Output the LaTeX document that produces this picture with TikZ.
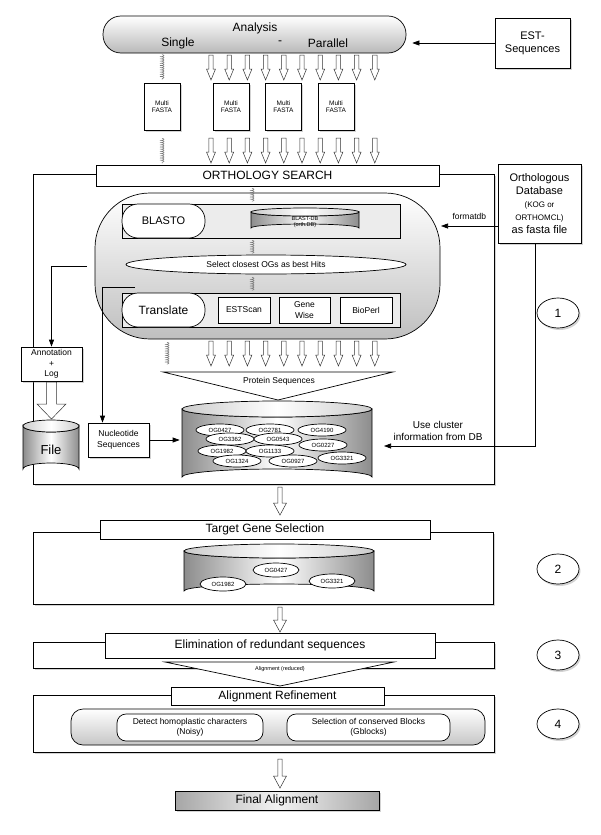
\documentclass[tikz,border=0pt]{standalone}
\usepackage{fontspec}
\setmainfont{Liberation Sans}
\usetikzlibrary{arrows.meta,shapes.geometric,shadows,decorations.pathmorphing}

\tikzset{pics/hollow/.style n args={4}{code={
	\draw [draw=black!80, fill=white, line width=0.5pt] (-#1,0) -- (#1,0) -- (#1,#3-#4) -- (#2,#3-#4) -- (0,#3) -- (-#2,#3-#4) -- (-#1,#3-#4) -- cycle;
}}}

\begin{document}
\begin{tikzpicture}[x=1pt,y=-1pt,line width=0.7pt,>={Triangle[length=7pt,width=5pt]}]
	\tikzstyle{fa}=[font=\fontsize{12}{14}\selectfont]
	\tikzstyle{fb}=[font=\fontsize{10}{12}\selectfont]
	\tikzstyle{fc}=[font=\fontsize{8.5}{10.5}\selectfont]
	\tikzstyle{fd}=[font=\fontsize{6}{7}\selectfont]
	\tikzstyle{shad}=[drop shadow={shadow xshift=1.5pt, shadow yshift=-2pt, opacity=0.35}]
	\tikzstyle{box}=[draw=black, fill=white, align=center, inner sep=1pt]
	\tikzstyle{frame}=[draw=black, fill=white, shad]
	\tikzstyle{bar}=[draw=black, fill=white, fa, inner sep=0pt]
	\tikzstyle{circ}=[ellipse, draw=black, fill=white, shad, minimum width=42pt, minimum height=30pt, fa]
	\tikzstyle{og}=[ellipse, draw=black, fill=white, minimum width=48pt, minimum height=12pt, inner sep=0pt, fd]
	\tikzstyle{hatched}=[draw=black!55, decorate, decoration={coil, aspect=0.2, segment length=2.2pt, amplitude=2pt}, line width=0.5pt]
	\tikzstyle{dbbody}=[draw=black, left color=gray!90, right color=gray!90, middle color=white]
	\tikzstyle{dbtop}=[draw=black, left color=gray!40, right color=gray!40, middle color=white]

	\useasboundingbox (0,0) rectangle (600,835);

	% frames of the four steps
	\draw node at (263.5,329) [frame, minimum width=461pt, minimum height=310pt] (frameA) {};
	\draw node at (263,568) [frame, minimum width=460pt, minimum height=72pt] (frameB) {};
	\draw node at (263.5,655) [frame, minimum width=461pt, minimum height=26pt] (frameC) {};
	\draw node at (263.5,723.5) [frame, minimum width=461pt, minimum height=57pt] (frameD) {};

	% analysis
	\draw node at (254.5,34.5) [draw=black, rounded corners=18pt, minimum width=303pt, minimum height=37pt, top color=white, bottom color=gray!55] (analysis) {};
	\node at (255,28) [fa] (analysistxt) {Analysis};
	\node at (178,43) [fa] (single) {Single};
	\node at (280,43) [fa] (sep) {-};
	\node at (328,43) [fa] (parallel) {Parallel};
	\draw node at (532.5,43) [box, shad, minimum width=75pt, minimum height=50pt, font=\fontsize{11}{13}\selectfont] (est) {EST-\\Sequences};
	\draw [->, shorten >=6pt] (est.west) to (est.west -| analysis.east);

	\foreach \x/\n in {162/mf1, 231/mf2, 283.5/mf3, 336/mf4}
		\draw node at (\x,106.5) [box, shad, minimum width=36pt, minimum height=47pt, font=\fontsize{6.5}{7.5}\selectfont] (\n) {Multi\\FASTA};

	\draw [hatched] (mf1.north) ++(0,-28) -- ++(0,25);
	\draw [hatched] (mf1.south) ++(0,8) -- ++(0,25);

	% orthology search
	\draw node at (267.5,266) [draw=black, rounded corners=55pt, minimum width=345pt, minimum height=146pt, top color=white, bottom color=gray!50] (searchbody) {};
	\draw node at (267.5,175.5) [bar, minimum width=343pt, minimum height=21pt] (orthbar) {ORTHOLOGY SEARCH};
	\draw node at (539.5,203.5) [box, shad, minimum width=83pt, minimum height=79pt, font=\fontsize{11}{13}\selectfont] (orthdb) {Orthologous\\Database\\{\fontsize{8}{10}\selectfont (KOG or}\\{\fontsize{8}{10}\selectfont ORTHOMCL)}\\as fasta file};

	\draw node at (261,221) [draw=black, fill=gray!15, minimum width=278pt, minimum height=34pt] (blastrow) {};
	\draw node at (163.5,221) [draw=black, fill=white, rounded corners=16pt, minimum width=83pt, minimum height=34pt, font=\fontsize{11}{13}\selectfont] (blasto) {BLASTO};
	\draw [dbbody] (251,212) -- (251,228) arc [start angle=180, end angle=360, x radius=54, y radius=4] -- (359,212) arc [start angle=0, end angle=180, x radius=54, y radius=4] -- cycle;
	\draw [dbtop] (305,212) ellipse [x radius=54, y radius=4];
	\node at (305,222) [align=center, font=\fontsize{5.5}{6.5}\selectfont] (blastdb) {BLAST-DB\\(orth.DB)};

	\draw node at (266,264.5) [ellipse, draw=black, fill=white, minimum width=280pt, minimum height=19pt, inner sep=0pt, fc] (select) {Select closest OGs as best Hits};

	\draw node at (261,310) [draw=black, fill=gray!15, minimum width=278pt, minimum height=34pt] (transrow) {};
	\draw node at (163.5,310) [draw=black, fill=white, rounded corners=16pt, minimum width=83pt, minimum height=34pt, fa] (translate) {Translate};
	\draw node at (244,310) [box, minimum width=52pt, minimum height=26pt, fc] (estscan) {ESTScan};
	\draw node at (304.5,310) [box, minimum width=51pt, minimum height=26pt, fc] (genewise) {Gene\\Wise};
	\draw node at (366,310) [box, minimum width=52pt, minimum height=26pt, fc] (bioperl) {BioPerl};

	\coordinate (hx) at (252,0);
	\coordinate (hy) at (167,0);
	\draw [hatched] (orthbar.south -| hx) ++(0,2) -- ++(0,13);
	\draw [hatched] (blastrow.south -| hx) ++(0,2) -- ++(0,13);
	\draw [hatched] (select.south -| hx) ++(0,3) -- ++(0,13);
	\draw [hatched] (searchbody.south -| hy) ++(0,3) -- ++(0,22);

	\coordinate (fmt) at (441,226);
	\draw [->] (orthdb.west |- fmt) to node[above=3pt, fc] (fmtlabel) {formatdb} (fmt);

	\foreach \i in {0,...,9} {
		\pic (pa\i) at (211+18.2*\i, 55) {hollow={2.2}{4.5}{25}{11}};
		\pic (pb\i) at (211+18.2*\i, 138) {hollow={2.2}{4.5}{25}{11}};
		\pic (pc\i) at (211+18.2*\i, 341) {hollow={2.2}{4.5}{25}{11}};
	}

	% protein sequences
	\coordinate (pl) at (163,372);
	\coordinate (pr) at (393,372);
	\coordinate (pt) at (278,400);
	\draw [fill=white] (pl) -- (pr) -- (pt) -- cycle;
	\node at (279,381) [fc] (protein) {Protein Sequences};

	\draw [dbbody] (182,409) -- (182,477) arc [start angle=180, end angle=360, x radius=95, y radius=8] -- (372,409) arc [start angle=0, end angle=180, x radius=95, y radius=8] -- cycle;
	\draw [dbtop] (277,409) ellipse [x radius=95, y radius=8];
	\node at (277,443) [minimum width=190pt, minimum height=84pt] (db) {};
	\foreach \x/\y/\t in {220/430/OG0427, 270/430/OG2781, 322/430/OG4190, 230/439/OG3362, 278/439/OG0543, 323/445/OG0227, 222/451/OG1982, 270/451/OG1133, 342/458/OG3321, 237/461/OG1324, 293/461/OG0927}
		\draw node at (\x,\y) [og] (\t) {\t};

	% annotation and file
	\draw node at (51.5,364) [box, shad, minimum width=61pt, minimum height=34pt, font=\fontsize{8.5}{10.5}\selectfont] (annot) {Annotation\\+\\Log};
	\coordinate (annstart) at (87,266);
	\draw [->] (annstart) -| (annot.north);
	\draw [dbbody] (23,426) -- (23,469) arc [start angle=180, end angle=360, x radius=28, y radius=6] -- (79,426) arc [start angle=0, end angle=180, x radius=28, y radius=6] -- cycle;
	\draw [dbtop] (51,426) ellipse [x radius=28, y radius=6];
	\node at (51,450) [minimum width=56pt, minimum height=50pt, font=\fontsize{13}{15}\selectfont] (file) {File};
	\pic (annarrow) at (51.5,382) {hollow={5}{14.5}{37}{15}};

	\draw node at (118.5,440) [box, shad, minimum width=61pt, minimum height=34pt, fc] (nuc) {Nucleotide\\Sequences};
	\coordinate (nucstart) at (135,287);
	\draw [->] (nucstart) -| ([xshift=-16pt]nuc.north);
	\draw [->, shorten >=2pt] (nuc.east) to (nuc.east -| db.west);

	\node at (438,431) [fb, align=center] (usclabel) {Use cluster\\information from DB};
	\coordinate (usc) at (384,446);
	\draw [->] ([xshift=-4.5pt]orthdb.south) |- (usc);

	\draw node at (558,313) [circ] (c1) {1};

	% target gene selection
	\pic (arA) at (280,487) {hollow={2.2}{6.5}{28}{12}};
	\draw node at (265,529.5) [bar, minimum width=330pt, minimum height=19pt] (target) {Target Gene Selection};
	\draw [dbbody] (184,551) -- (184,591) arc [start angle=180, end angle=360, x radius=95, y radius=7] -- (374,551) arc [start angle=0, end angle=180, x radius=95, y radius=7] -- cycle;
	\draw [dbtop] (279,551) ellipse [x radius=95, y radius=7];
	\node at (279,571) [minimum width=190pt, minimum height=54pt] (db2) {};
	\foreach \x/\y/\t in {276/570/OG0427, 223/584/OG1982, 332/581/OG3321}
		\draw node at (\x,\y) [og, minimum width=46pt, minimum height=14pt] (t\t) {\t};
	\draw node at (558,569) [circ] (c2) {2};

	% elimination
	\pic (arB) at (280,607) {hollow={2.2}{6.5}{25}{12}};
	\draw node at (270,645.5) [bar, minimum width=330pt, minimum height=25pt] (elim) {Elimination of redundant sequences};
	\coordinate (al) at (165,662);
	\coordinate (ar) at (394,662);
	\coordinate (at) at (280,686);
	\draw [fill=white] (al) -- (ar) -- (at) -- cycle;
	\node at (280,669) [font=\fontsize{5.5}{6.5}\selectfont] (reduced) {Alignment (reduced)};
	\draw node at (558,655) [circ] (c3) {3};

	% refinement
	\draw node at (277.5,696) [bar, minimum width=213pt, minimum height=18pt] (refine) {Alignment Refinement};
	\draw node at (278,727) [draw=black, rounded corners=12pt, minimum width=414pt, minimum height=36pt, top color=white, bottom color=gray!45] (refbody) {};
	\draw node at (190,727.5) [box, rounded corners=9pt, minimum width=146pt, minimum height=27pt, fc] (noisy) {Detect homoplastic characters\\(Noisy)};
	\draw node at (368.5,727.5) [box, rounded corners=9pt, minimum width=163pt, minimum height=27pt, fc] (gblocks) {Selection of conserved Blocks\\(Gblocks)};
	\draw node at (558,724) [circ] (c4) {4};

	\pic (arC) at (280,759) {hollow={2.2}{6.5}{29}{12}};
	\draw node at (277,800.5) [draw=black, shad, left color=gray!70, right color=gray!70, middle color=gray!10, minimum width=204pt, minimum height=19pt, inner sep=0pt, fa] (final) {Final Alignment};
\end{tikzpicture}
\end{document}
